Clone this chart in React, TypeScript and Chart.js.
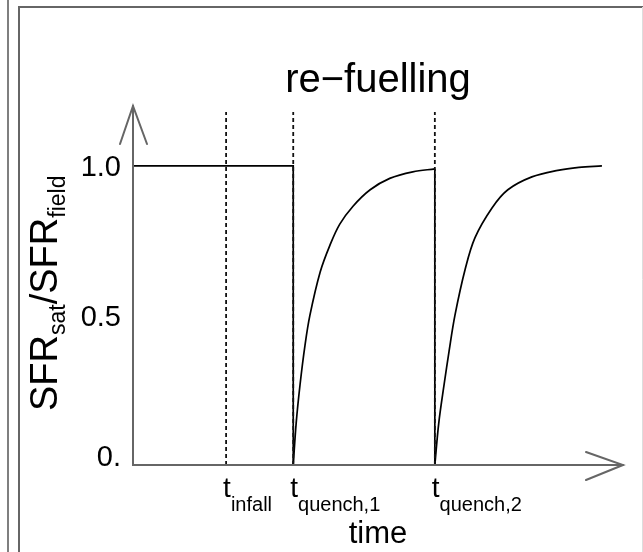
import React, { useEffect, useRef } from "react";
import { Chart, registerables } from "chart.js";

Chart.register(...registerables);

// Axis ranges (time in arbitrary units, SFR ratio)
const TIME_MAX = 10;
const VALUE_MAX = 1.2;
const DASH_TOP = 1.18;

// Event times marked with dotted verticals
const eventTimes = [1.9, 3.27, 6.16];
const eventMain = ["t", "t", "t"];
const eventSubs = ["infall", "quench,1", "quench,2"];

// Y tick positions and labels
const yTickValues = [0, 0.5, 1.0];
const yTickLabels = ["0.", "0.5", "1.0"];

// Constant SFR before first quench, then the drop
const plateauTimes = [0, 3.27, 3.27];
const plateauValues = [1.0, 1.0, 0.0];

// Recovery after the first quench
const rise1Times = [3.27, 3.33, 3.41, 3.51, 3.61, 3.82, 4.02, 4.22, 4.49, 4.84, 5.24, 5.71, 6.16];
const rise1Values = [0.0, 0.14, 0.27, 0.4, 0.5, 0.645, 0.735, 0.805, 0.865, 0.92, 0.958, 0.98, 0.99];

// Second quench
const dropTimes = [6.16, 6.16];
const dropValues = [0.99, 0.0];

// Recovery after the second quench
const rise2Times = [6.16, 6.24, 6.35, 6.45, 6.57, 6.78, 6.98, 7.33, 7.65, 8.14, 8.67, 9.1, 9.57];
const rise2Values = [0.0, 0.14, 0.27, 0.38, 0.5, 0.655, 0.76, 0.86, 0.92, 0.963, 0.985, 0.995, 1.0];

const FONT = "'Liberation Sans', Arial, Helvetica, sans-serif";

const pts = (xs: number[], ys: number[]) => xs.map((x, i) => ({ x, y: ys[i] }));

const decorPlugin = {
  id: "decor",
  beforeDraw(chart: any) {
    const ctx = chart.ctx as CanvasRenderingContext2D;
    const W = chart.width;
    const H = chart.height;
    ctx.save();
    ctx.fillStyle = "#ffffff";
    ctx.fillRect(0, 0, W, H);
    // panel frames
    ctx.strokeStyle = "#555555";
    ctx.lineWidth = 1.5;
    ctx.beginPath();
    ctx.moveTo(8, 0);
    ctx.lineTo(8, H);
    ctx.stroke();
    ctx.strokeStyle = "#666666";
    ctx.lineWidth = 2;
    ctx.beginPath();
    ctx.moveTo(19, H);
    ctx.lineTo(19, 7);
    ctx.lineTo(W, 7);
    ctx.stroke();
    ctx.strokeStyle = "#dddddd";
    ctx.lineWidth = 1;
    ctx.beginPath();
    ctx.moveTo(642.5, 7);
    ctx.lineTo(642.5, H);
    ctx.stroke();
    ctx.restore();
  },
  afterDraw(chart: any) {
    const ctx = chart.ctx as CanvasRenderingContext2D;
    const xs = chart.scales.x;
    const ys = chart.scales.y;
    const x0 = xs.getPixelForValue(0);
    const x1 = xs.getPixelForValue(TIME_MAX);
    const y0 = ys.getPixelForValue(0);
    const y1 = ys.getPixelForValue(VALUE_MAX);
    ctx.save();
    // axes with open arrowheads
    ctx.strokeStyle = "#666666";
    ctx.lineWidth = 2;
    ctx.lineCap = "round";
    ctx.beginPath();
    ctx.moveTo(x0, y1);
    ctx.lineTo(x0, y0);
    ctx.lineTo(x1, y0);
    ctx.stroke();
    ctx.beginPath();
    ctx.moveTo(x0 - 13, y1 + 38);
    ctx.lineTo(x0, y1);
    ctx.lineTo(x0 + 14, y1 + 38);
    ctx.stroke();
    ctx.beginPath();
    ctx.moveTo(x1 - 37, y0 - 13);
    ctx.lineTo(x1, y0);
    ctx.lineTo(x1 - 37, y0 + 15);
    ctx.stroke();

    ctx.fillStyle = "#000000";
    // y tick labels
    ctx.font = `29px ${FONT}`;
    ctx.textAlign = "right";
    ctx.textBaseline = "alphabetic";
    const cap = 29 * 0.716;
    yTickValues.forEach((v, i) => {
      const py = ys.getPixelForValue(v);
      const base = Math.min(py + cap / 2, y0 + 1);
      ctx.fillText(yTickLabels[i], x0 - 12, base);
    });

    // x event labels with subscripts
    ctx.textAlign = "left";
    eventTimes.forEach((t, i) => {
      const px = xs.getPixelForValue(t) - 3;
      ctx.font = `28px ${FONT}`;
      ctx.fillText(eventMain[i], px, y0 + 32);
      const w = ctx.measureText(eventMain[i]).width;
      ctx.font = `20px ${FONT}`;
      ctx.fillText(eventSubs[i], px + w, y0 + 46);
    });

    // x axis title
    const cx = (x0 + x1) / 2;
    ctx.textAlign = "center";
    ctx.font = `31px ${FONT}`;
    ctx.fillText("time", cx, y0 + 78);

    // panel title
    ctx.font = `40px ${FONT}`;
    ctx.fillText("re\u2212fuelling", cx, 92);

    // y axis title, rotated, with subscripts
    ctx.translate(57, 411);
    ctx.rotate(-Math.PI / 2);
    ctx.textAlign = "left";
    const parts: [string, boolean][] = [
      ["SFR", false],
      ["sat", true],
      ["/SFR", false],
      ["field", true],
    ];
    let off = 0;
    parts.forEach(([s, sub]) => {
      ctx.font = sub ? `23px ${FONT}` : `38px ${FONT}`;
      ctx.fillText(s, off, sub ? 8 : 0);
      off += ctx.measureText(s).width;
    });
    ctx.restore();
  },
};

export default function App() {
  const ref = useRef<HTMLCanvasElement | null>(null);

  useEffect(() => {
    if (!ref.current) return;
    const line = { borderColor: "#000000", borderWidth: 1.7, pointRadius: 0, fill: false };
    const dashed = eventTimes.map((t) => ({
      data: [
        { x: t, y: 0 },
        { x: t, y: DASH_TOP },
      ],
      borderColor: "#111111",
      borderWidth: 1.8,
      borderDash: [4, 3],
      pointRadius: 0,
      tension: 0,
      fill: false,
    }));
    const chart = new Chart(ref.current, {
      type: "line",
      data: {
        datasets: [
          ...dashed,
          { ...line, data: pts(plateauTimes, plateauValues), tension: 0 },
          { ...line, data: pts(rise1Times, rise1Values), tension: 0.35 },
          { ...line, data: pts(dropTimes, dropValues), tension: 0 },
          { ...line, data: pts(rise2Times, rise2Values), tension: 0.35 },
        ] as any,
      },
      options: {
        responsive: false,
        animation: false,
        devicePixelRatio: 1,
        layout: { padding: { left: 133, right: 20, top: 106, bottom: 87 } },
        scales: {
          x: { type: "linear", min: 0, max: TIME_MAX, display: false },
          y: { type: "linear", min: 0, max: VALUE_MAX, display: false },
        },
        plugins: {
          legend: { display: false },
          title: { display: false },
          tooltip: { enabled: false },
        },
      },
      plugins: [decorPlugin],
    });
    return () => chart.destroy();
  }, []);

  return (
    <div style={{ position: "fixed", left: 0, top: 0, width: 643, height: 552, background: "#fff" }}>
      <canvas ref={ref} width={643} height={552} style={{ display: "block" }} />
    </div>
  );
}
